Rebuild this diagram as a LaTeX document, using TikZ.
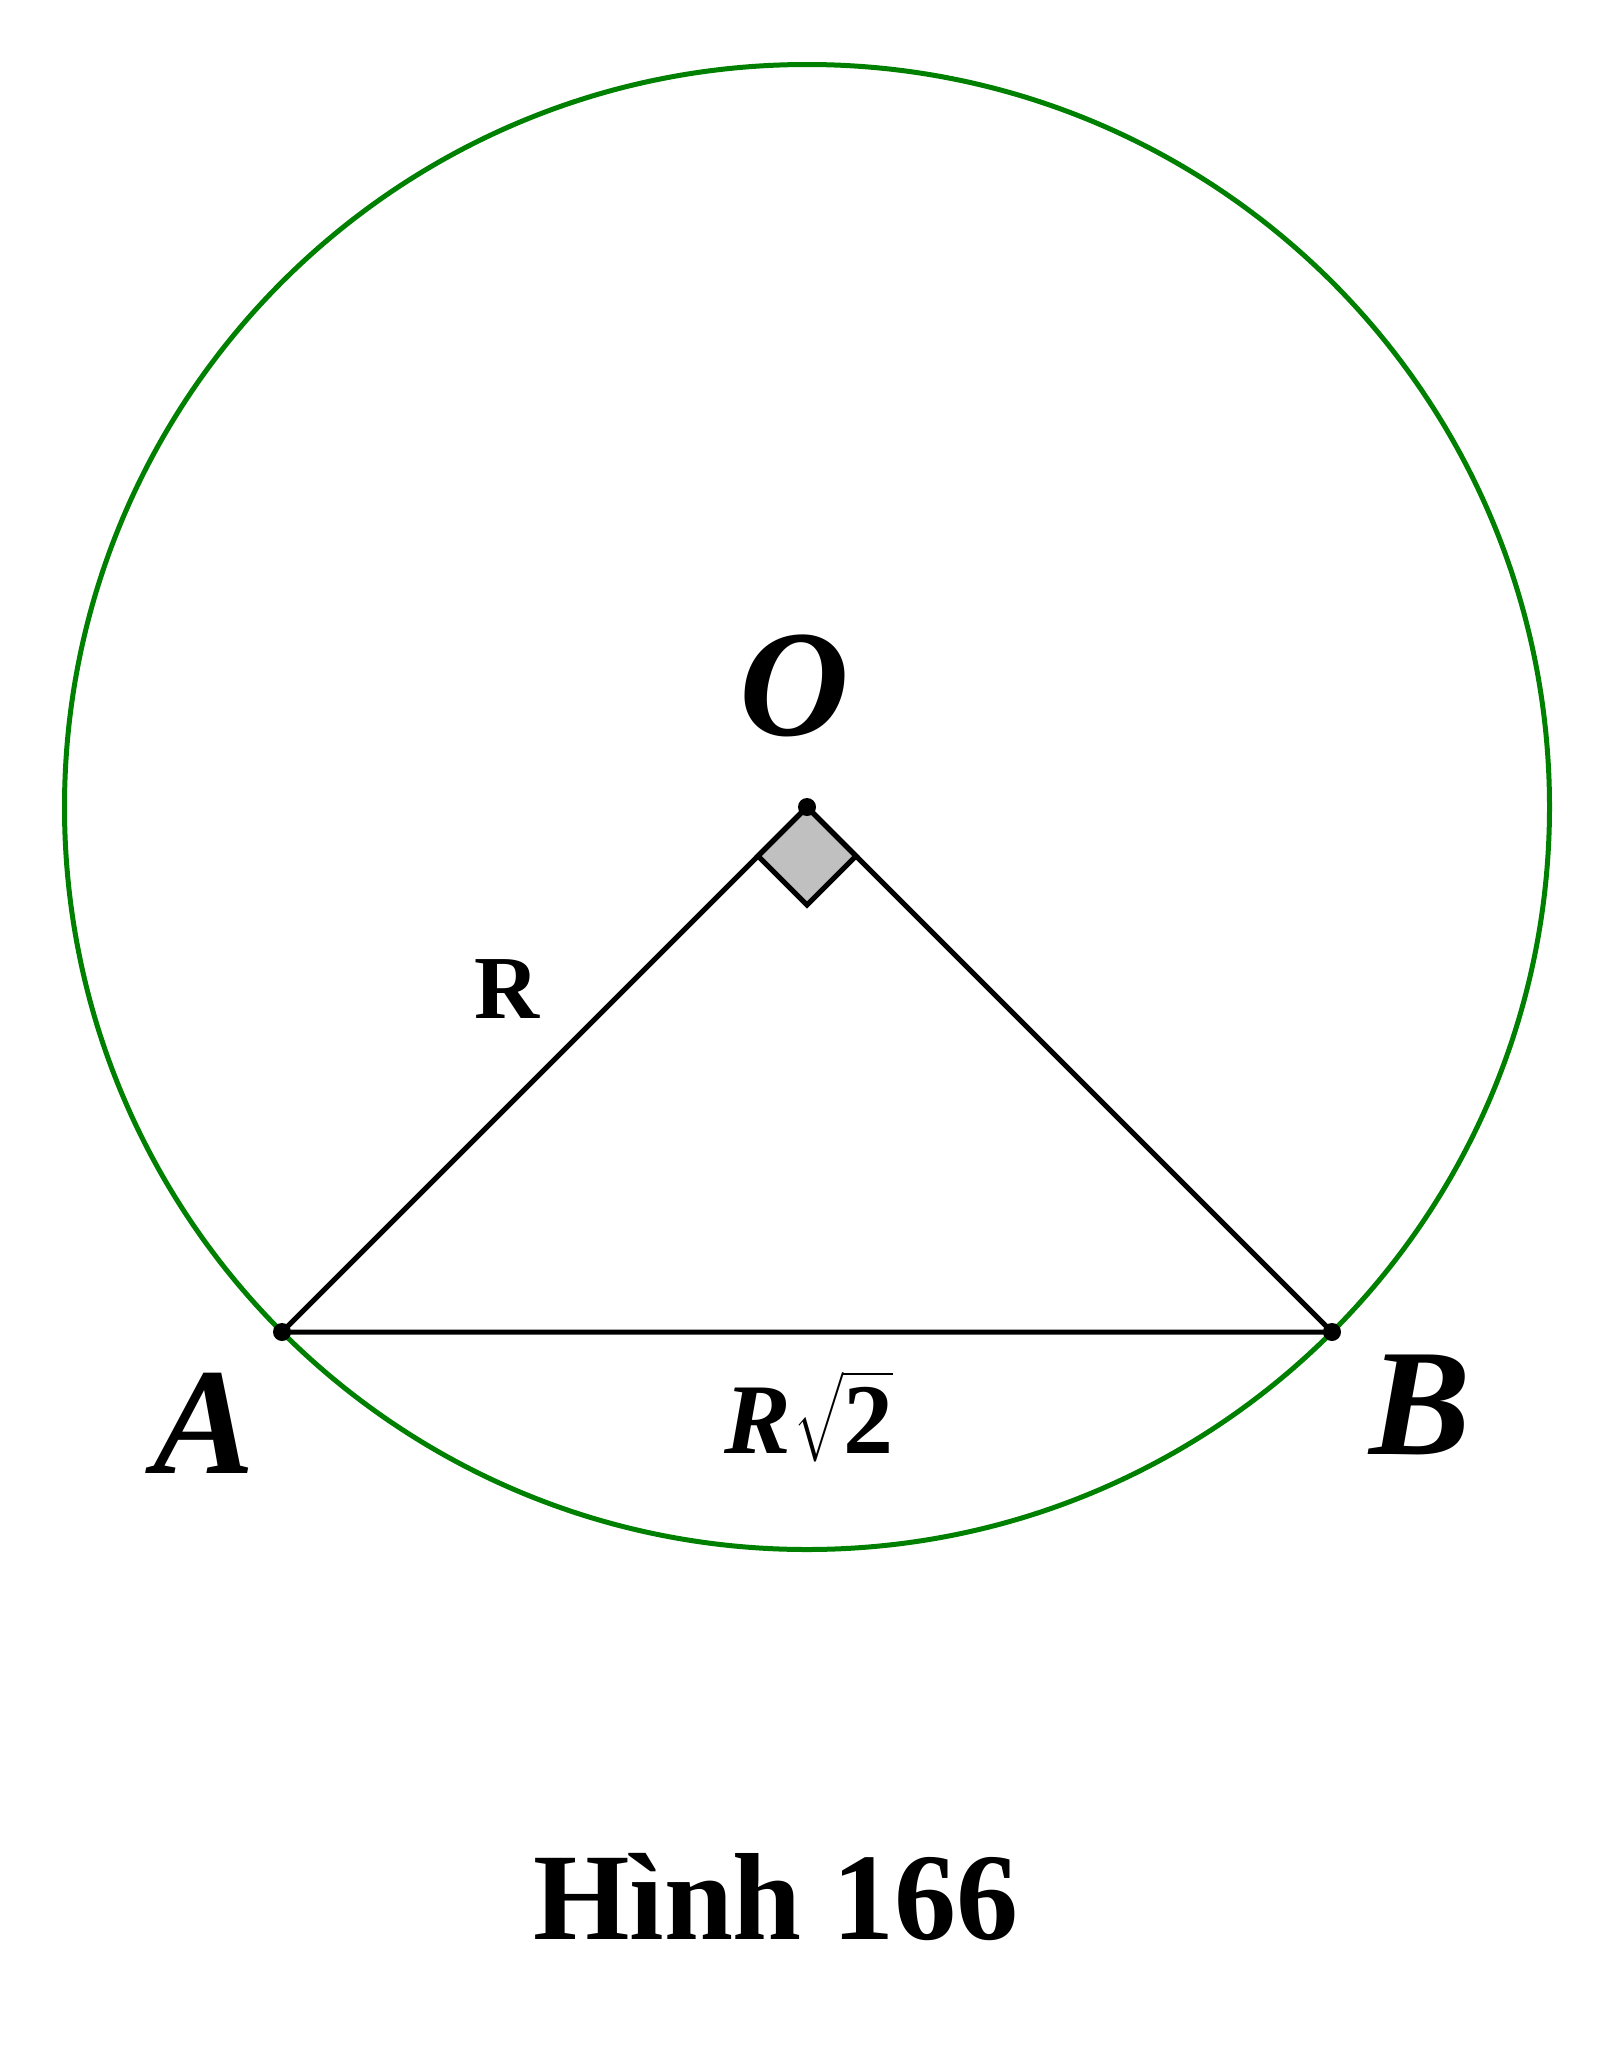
\documentclass[tikz,border=0pt]{standalone}
\usepackage{amsmath}
\usepackage{fontspec}
\setmainfont{Liberation Serif}
\definecolor{circgreen}{HTML}{008000}
\definecolor{anglegray}{HTML}{C0C0C0}
\begin{document}
\begin{tikzpicture}[x=0.5pt,y=-0.5pt,
  seg/.style={line width=2.5pt,black,line cap=round},
  circ/.style={line width=2.5pt,circgreen},
  ptdot/.style={fill=black},
  biglab/.style={inner sep=0pt,anchor=base,font=\fontsize{76}{80}\selectfont\bfseries\itshape},
  rlab/.style={inner sep=0pt,anchor=base,font=\fontsize{45}{50}\selectfont\bfseries},
  caplab/.style={inner sep=0pt,anchor=base,font=\fontsize{62}{66}\selectfont\bfseries},
  anglebox/.style={fill=anglegray,draw=black,line width=2.5pt,line join=miter}]
\useasboundingbox (0,0) rectangle (1614,2045);
\coordinate (O) at (807,807);
\coordinate (A) at (282,1332);
\coordinate (B) at (1332,1332);
\draw[circ] (O) circle[radius=742.5];
\draw[anglebox] (O) -- ++(-49,49) -- ++(49,49) -- ++(49,-49) -- cycle;
\draw[seg] (A) -- (O) -- (B) -- (A);
\fill[ptdot] (O) circle[radius=9];
\fill[ptdot] (A) circle[radius=9];
\fill[ptdot] (B) circle[radius=9];
\node[biglab] (lO) at (794,735) {O};
\node[biglab] (lA) at (204,1473) {A};
\node[biglab] (lB) at (1420,1454) {B};
\node[rlab] (lR) at (507,1018) {R};
\node[inner sep=0pt,anchor=base] (lR2) at (809,1453) {\fontsize{50}{56}\selectfont\bfseries\itshape R\kern1pt$\sqrt{\mbox{\fontsize{50}{56}\selectfont\bfseries\upshape 2}}$};
\node[caplab] (cap) at (776,1939) {Hình 166};
\end{tikzpicture}
\end{document}
